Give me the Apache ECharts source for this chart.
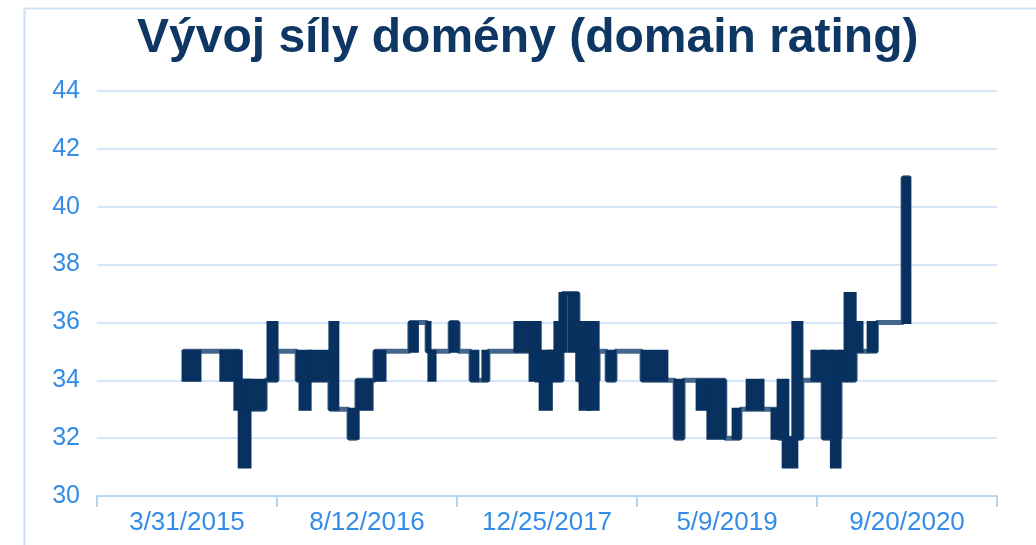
<!DOCTYPE html>
<html><head><meta charset="utf-8">
<script src="https://cdn.jsdelivr.net/npm/echarts@6/dist/echarts.min.js"></script>
<style>html,body{margin:0;padding:0;background:#fff}#c{width:1036px;height:545px}</style>
</head><body><div id="c"></div>
<script>
const chartTitle = 'Vývoj síly domény (domain rating)';
// Date-axis labels (each interval = 500 days, starting 3/31/2015)
const xLabels = ['3/31/2015', '8/12/2016', '12/25/2017', '5/9/2019', '9/20/2020'];
const dayMin = 0, dayMax = 2500;           // days since 3/31/2015
const yMin = 30, yMax = 44, yStep = 2;

// Domain rating change points: [day since 3/31/2015, DR]
const trend = [
  [239,35],[395,33],[467,34],[500,35],[556,34],[647,33],[700,32],[722,34],
  [772,35],[869,36],[917,35],[981,36],[1003,35],[1039,34],[1086,35],[1217,34],
  [1292,37],[1336,34],[1392,35],[1417,34],[1439,35],[1514,34],[1606,32],[1628,34],
  [1744,32],[1786,33],[1892,32],[1958,34],[2017,32],[2064,34],[2106,35],[2165,36],
  [2239,41],[2258,41]
];

// Periods of daily flipping between two values: [startDay, endDay, low, high]
const bands = [
  [239,286,34,35],[344,400,34,35],[383,400,33,35],[395,425,31,34],[406,467,33,34],
  [475,500,34,36],[556,592,34,35],[564,592,33,34],[592,642,34,35],[647,669,33,36],
  [700,725,32,33],[722,764,33,34],[772,800,34,35],[869,890,35,36],[917,925,35,36],
  [922,939,34,35],[981,1003,35,36],[1039,1058,34,35],[1072,1086,34,35],
  [1161,1217,35,36],[1203,1231,34,36],[1231,1262,33,35],[1253,1278,34,35],
  [1272,1292,34,36],[1286,1303,35,37],[1303,1319,37,37],[1311,1336,35,37],
  [1333,1369,34,36],[1342,1369,33,36],[1364,1392,33,36],[1417,1439,34,35],
  [1514,1583,34,35],[1606,1628,32,34],[1667,1697,33,34],[1697,1744,32,34],
  [1767,1786,32,33],[1806,1850,33,34],[1875,1892,32,33],[1892,1919,32,34],
  [1906,1944,31,32],[1933,1958,32,36],[1986,2022,34,35],[2017,2044,32,35],
  [2040,2064,31,35],[2064,2083,34,35],[2078,2106,34,37],[2106,2125,35,36],
  [2142,2165,35,36],[2239,2258,36,41]
];

const navy = '#08315f';
const lineCol = '#44678b';
const blue = '#338ce7';
const font = 'Liberation Sans, Arial, sans-serif';

const chart = echarts.init(document.getElementById('c'));
chart.setOption({
  animation: false,
  backgroundColor: '#fff',
  graphic: [{
    type: 'rect', left: 22, top: 6, shape: {x: 0, y: 0, width: 1200, height: 700},
    style: {fill: 'none', stroke: '#cfe2f8', lineWidth: 2}, silent: true
  }],
  title: {
    text: chartTitle, left: 132, top: 10,
    textStyle: {fontSize: 48, fontWeight: 'bold', color: '#0e3764', fontFamily: font}
  },
  grid: {left: 97, right: 39, top: 91, bottom: 49, containLabel: false},
  xAxis: [{
    type: 'category', data: xLabels, boundaryGap: true,
    axisLine: {show: true, lineStyle: {color: '#b9d5f5', width: 2}},
    axisTick: {show: true, length: 11, alignWithLabel: false, lineStyle: {color: '#b9d5f5', width: 2}},
    axisLabel: {color: blue, fontSize: 26, margin: 14, fontFamily: font},
    splitLine: {show: false}
  }, {
    type: 'value', min: dayMin, max: dayMax, show: false
  }],
  yAxis: {
    type: 'value', min: yMin, max: yMax, interval: yStep,
    axisLine: {show: false}, axisTick: {show: false},
    axisLabel: {color: blue, fontSize: 25, margin: 17, fontFamily: font},
    splitLine: {lineStyle: {color: '#c9defa', width: 1.5}}
  },
  series: [{
    type: 'line', xAxisIndex: 1, data: trend, step: 'end',
    showSymbol: false, lineStyle: {color: lineCol, width: 5}, z: 2
  }, {
    type: 'custom', xAxisIndex: 1, data: bands, z: 3,
    encode: {x: [0, 1], y: [2, 3]},
    renderItem: function (params, api) {
      const p0 = api.coord([api.value(0), api.value(3)]);
      const p1 = api.coord([api.value(1), api.value(2)]);
      return {
        type: 'rect',
        shape: {x: p0[0], y: p0[1], width: p1[0] - p0[0], height: p1[1] - p0[1]},
        style: {fill: navy, stroke: navy, lineWidth: 3}
      };
    }
  }]
});
</script></body></html>
